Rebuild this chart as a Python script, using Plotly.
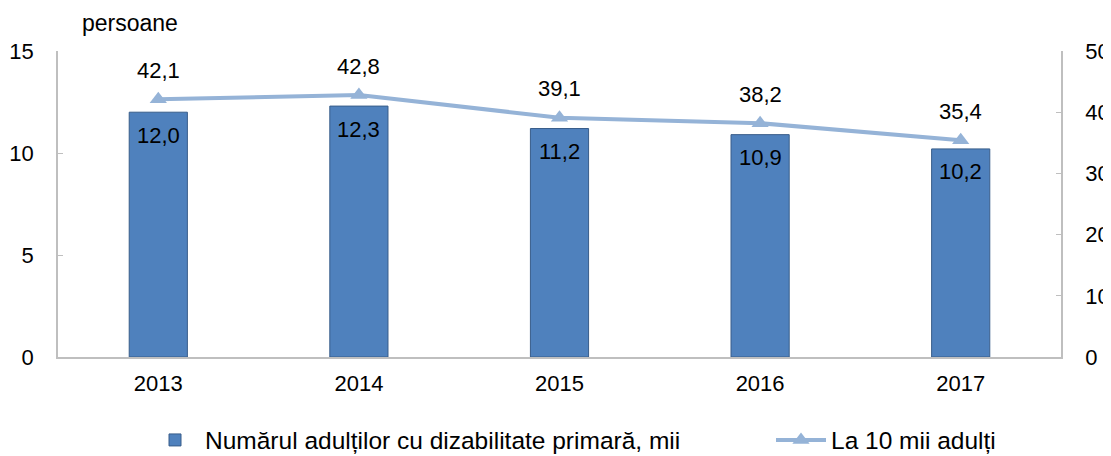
import plotly.graph_objects as go

years = ["2013", "2014", "2015", "2016", "2017"]
adults_thousands = [12.0, 12.3, 11.2, 10.9, 10.2]
per_10k = [42.1, 42.8, 39.1, 38.2, 35.4]
left_ticks = [0, 5, 10, 15]
right_ticks = [0, 10, 20, 30, 40, 50]

def fmt(v):
    return f"{v:.1f}".replace(".", ",")

FONT = "Liberation Sans, Arial, sans-serif"
BAR_COLOR = "#4F81BD"
BAR_EDGE = "#385D8A"
LINE_COLOR = "#95B3D7"
AXIS_COLOR = "#BFBFBF"
FS = 22
FS_LEG = 24.5

fig = go.Figure()
fig.add_trace(go.Bar(
    x=years, y=adults_thousands, name="Numărul adulților cu dizabilitate primară, mii",
    marker=dict(color=BAR_COLOR, line=dict(color=BAR_EDGE, width=1)),
    width=0.29, yaxis="y", legend="legend",
))
fig.add_trace(go.Scatter(
    x=years, y=per_10k, name="La 10 mii adulți", mode="lines+markers",
    line=dict(color=LINE_COLOR, width=4),
    marker=dict(symbol="triangle-up", size=15, color=LINE_COLOR),
    yaxis="y2", legend="legend2",
))

# category axes place annotations by category serial number
annotations = []
for i, v in enumerate(adults_thousands):
    annotations.append(dict(x=i, y=v, xref="x", yref="y", text=fmt(v), showarrow=False,
                            yshift=-23, font=dict(size=FS, color="black", family=FONT)))
for i, v in enumerate(per_10k):
    annotations.append(dict(x=i, y=v, xref="x", yref="y2", text=fmt(v), showarrow=False,
                            yshift=29, font=dict(size=FS, color="black", family=FONT)))
annotations.append(dict(x=(80 - 58) / 1003, y=(357 - 23) / 306, xref="paper", yref="paper",
                        xanchor="left", yanchor="middle", text="persoane", showarrow=False,
                        font=dict(size=23, color="black", family=FONT)))

legend_common = dict(orientation="h", y=(357 - 440) / 306, yanchor="middle",
                     font=dict(size=FS_LEG, family=FONT), itemwidth=50,
                     bgcolor="rgba(0,0,0,0)", tracegroupgap=0)

fig.update_layout(
    width=1111, height=456,
    margin=dict(l=50, r=58, t=43, b=107, autoexpand=False),
    paper_bgcolor="white", plot_bgcolor="white",
    font=dict(family=FONT, size=FS, color="black"),
    xaxis=dict(type="category", categoryorder="array", categoryarray=years,
               range=[-0.5, len(years) - 0.5], showline=True, linecolor=AXIS_COLOR, linewidth=2,
               ticks="outside", ticklen=6, tickcolor="rgba(0,0,0,0)",
               showgrid=False, tickfont=dict(size=FS)),
    yaxis=dict(range=[0, 15], tickvals=left_ticks, showline=True, linecolor=AXIS_COLOR,
               linewidth=1.5, ticks="inside", ticklen=5, tickcolor=AXIS_COLOR, showgrid=False,
               zeroline=False, ticklabelstandoff=18, tickfont=dict(size=FS)),
    yaxis2=dict(range=[0, 50], tickvals=right_ticks, overlaying="y", side="right",
                showline=True, linecolor=AXIS_COLOR, linewidth=1.5, ticks="inside", ticklen=5,
                tickcolor=AXIS_COLOR, showgrid=False, zeroline=False, ticklabelstandoff=18,
                tickfont=dict(size=FS)),
    showlegend=True,
    legend=dict(x=87 / 1003, xanchor="left", **legend_common),
    legend2=dict(x=713 / 1003, xanchor="left", **legend_common),
    annotations=annotations,
)

fig.write_html("out.html")
